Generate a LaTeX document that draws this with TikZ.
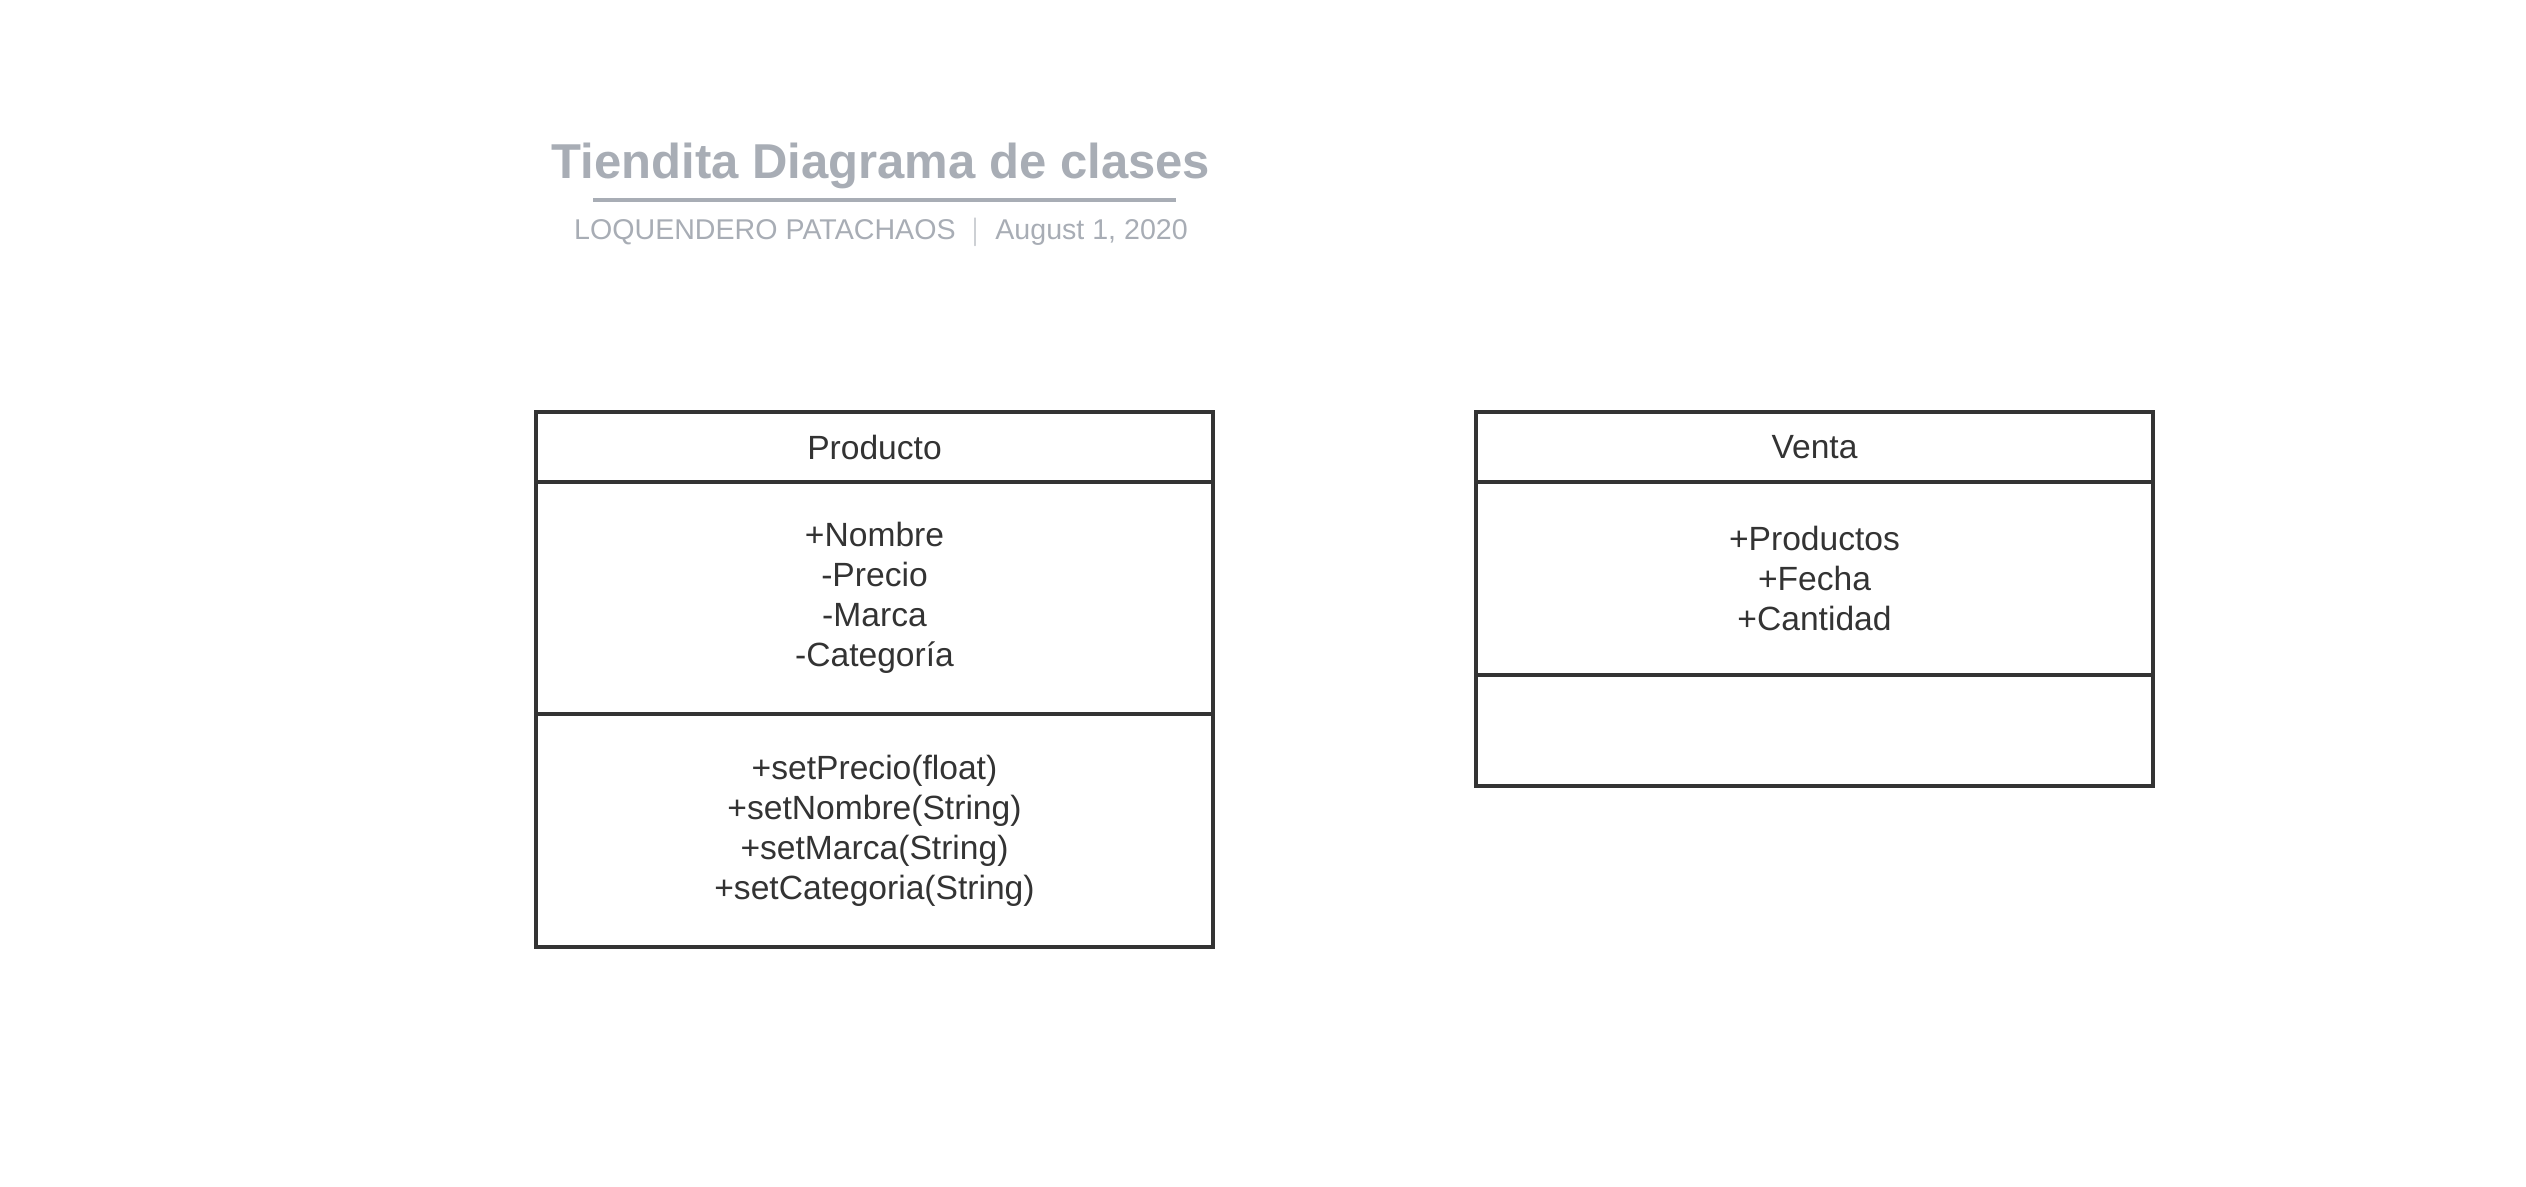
\documentclass[tikz,border=0pt]{standalone}
\usepackage{fontspec}
\setmainfont{Liberation Sans}
\usetikzlibrary{positioning}
\definecolor{titlegray}{RGB}{168,173,181}
\definecolor{boxline}{RGB}{51,51,51}

\begin{document}
\begin{tikzpicture}[x=0.5pt,y=0.5pt,yscale=-1,
    classpart/.style={draw=boxline, line width=1.6pt, outer sep=0pt, inner sep=0pt,
        minimum width=338.5pt, align=center, text=boxline,
        font=\fontsize{16.8}{20}\selectfont},
    titletext/.style={text=titlegray, inner sep=0pt}]
        \useasboundingbox (0,0) rectangle (2526,1187);

        % Title
        \node [titletext, font=\fontsize{24.5}{28}\selectfont\bfseries] (title) at (881,166) {Tiendita Diagrama de clases};
        \coordinate (rule west) at (593,200);
        \coordinate (rule east) at (1176,200);
        \draw [titlegray, line width=2pt] (rule west) -- (rule east);
        \node [titletext, font=\fontsize{14.3}{17}\selectfont] (subtitle) at (881,232) {LOQUENDERO PATACHAOS \ $|$\ \ August 1, 2020};

        % Class Producto
        \node [classpart, minimum height=35pt, anchor=north west] (producto) at (536,412) {Producto};
        \node [classpart, minimum height=116pt, below=0pt of producto] (producto attr) {+Nombre\\-Precio\\-Marca\\-Categoría};
        \node [classpart, minimum height=116.5pt, below=0pt of producto attr] (producto ops) {+setPrecio(float)\\+setNombre(String)\\+setMarca(String)\\+setCategoria(String)};

        % Class Venta
        \node [classpart, minimum height=35pt, anchor=north west] (venta) at (1476,412) {Venta};
        \node [classpart, minimum height=96.5pt, below=0pt of venta] (venta attr) {+Productos\\+Fecha\\+Cantidad};
        \node [classpart, minimum height=55.5pt, below=0pt of venta attr] (venta ops) {};

\end{tikzpicture}
\end{document}
